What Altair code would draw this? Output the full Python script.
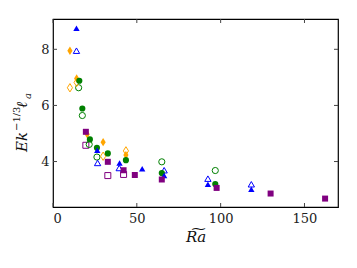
import altair as alt
import pandas as pd

# Data
blue_f_x = [14.0, 26.4, 39.7, 53.2, 66.3, 92.4, 118.3]
blue_f_y = [8.75, 4.40, 3.95, 3.74, 3.50, 3.19, 3.01]
blue_o_x = [14.0, 26.6, 39.5, 66.3, 92.4, 118.3]
blue_o_y = [7.95, 3.95, 3.77, 3.69, 3.39, 3.19]
orange_f_x = [10.1, 14.1, 20.4, 29.9, 43.5]
orange_f_y = [7.95, 6.96, 4.97, 4.69, 4.23]
orange_o_x = [10.1, 14.1, 29.9, 43.5]
orange_o_y = [6.63, 6.82, 4.19, 4.38]
green_f_x = [15.7, 17.5, 22.0, 26.2, 32.7, 43.5, 64.9, 96.8]
green_f_y = [6.88, 5.89, 4.79, 4.49, 4.29, 4.05, 3.59, 3.20]
green_o_x = [15.3, 17.5, 21.6, 26.2, 64.9, 96.8]
green_o_y = [6.63, 5.64, 4.61, 4.16, 3.99, 3.68]
purple_f_x = [19.6, 32.7, 42.1, 48.8, 64.9, 97.6, 129.8, 162.3]
purple_f_y = [5.06, 3.99, 3.69, 3.52, 3.36, 3.06, 2.86, 2.68]
purple_o_x = [19.6, 32.7, 42.1]
purple_o_y = [4.58, 3.50, 3.54]

x_ticks = [0, 50, 100, 150]
y_ticks = [4, 6, 8]
x_dom = [0, 170]
y_dom = [2.38, 9.08]

x_title = "R\u0360a"
y_title_parts = ["Ek", "\u22121/3", "\u2113", "a"]

W, H = 285, 188
FONT = "DejaVu Serif"
DIAMOND = "M0,-1L0.62,0L0,1L-0.62,0Z"

xs = alt.Scale(domain=x_dom, nice=False, zero=False)
ys = alt.Scale(domain=y_dom, nice=False, zero=False)

xax = alt.Axis(values=x_ticks, ticks=False, domain=False, grid=False,
               labelFont=FONT, labelFontSize=13, labelPadding=5, labelColor="#222",
               titleFont=FONT, titleFontSize=15, titleFontStyle="italic",
               titleFontWeight="normal", titlePadding=4, titleColor="#111")
yax = alt.Axis(values=y_ticks, ticks=False, domain=False, grid=False,
               labelFont=FONT, labelFontSize=13, labelPadding=4, labelColor="#222")

X = lambda: alt.X("x:Q", scale=xs, axis=xax, title=x_title)
Y = lambda: alt.Y("y:Q", scale=ys, axis=yax, title="")


def series(xv, yv, color, shape, filled, size):
    df = pd.DataFrame({"x": xv, "y": yv})
    if filled:
        m = alt.Chart(df).mark_point(shape=shape, filled=True, size=size, color=color, opacity=1)
    else:
        m = alt.Chart(df).mark_point(shape=shape, filled=False, size=size, color=color,
                                     strokeWidth=1, opacity=1)
    return m.encode(x=X(), y=Y())


xt = pd.DataFrame({"x": x_ticks})
yt = pd.DataFrame({"y": y_ticks})
tick_style = dict(color="#444", strokeWidth=1)
ticks = [
    alt.Chart(xt).mark_rule(**tick_style).encode(x=X(), y=alt.value(H), y2=alt.value(H - 4)),
    alt.Chart(xt).mark_rule(**tick_style).encode(x=X(), y=alt.value(0), y2=alt.value(4)),
    alt.Chart(yt).mark_rule(**tick_style).encode(y=Y(), x=alt.value(0), x2=alt.value(4)),
    alt.Chart(yt).mark_rule(**tick_style).encode(y=Y(), x=alt.value(W), x2=alt.value(W - 4)),
]

# y-axis title built from pieces (main text, superscript, ell, subscript)
one = pd.DataFrame({"k": [0]})
def ytxt(text, px, py, size, style):
    return alt.Chart(one).mark_text(angle=270, align="left", baseline="alphabetic",
                                    font=FONT, fontSize=size, fontStyle=style,
                                    color="#111").encode(
        x=alt.value(px), y=alt.value(py), text=alt.value(text))

ytitle = [
    ytxt(y_title_parts[0], -26, 133, 15, "italic"),
    ytxt(y_title_parts[1], -33, 112, 10, "normal"),
    ytxt(y_title_parts[2], -26, 89, 15, "italic"),
    ytxt(y_title_parts[3], -22, 80, 10, "italic"),
]

layers = ticks + ytitle + [
    series(purple_o_x, purple_o_y, "#800080", "square", False, 36),
    series(green_o_x, green_o_y, "#008000", "circle", False, 38),
    series(orange_o_x, orange_o_y, "#ffa500", DIAMOND, False, 70),
    series(blue_o_x, blue_o_y, "#0000ff", "triangle-up", False, 40),
    series(orange_f_x, orange_f_y, "#ffa500", DIAMOND, True, 70),
    series(green_f_x, green_f_y, "#008000", "circle", True, 38),
    series(blue_f_x, blue_f_y, "#0000ff", "triangle-up", True, 40),
    series(purple_f_x, purple_f_y, "#800080", "square", True, 36),
]

chart = alt.layer(*layers).properties(
    width=W, height=H,
    autosize=alt.AutoSizeParams(type="none"),
    padding={"left": 45, "top": 11, "right": 8, "bottom": 45},
).configure(background="white", font=FONT).configure_view(stroke="black", strokeWidth=1.2)

chart.save("out.html", embed_options={"renderer": "svg", "actions": False})
